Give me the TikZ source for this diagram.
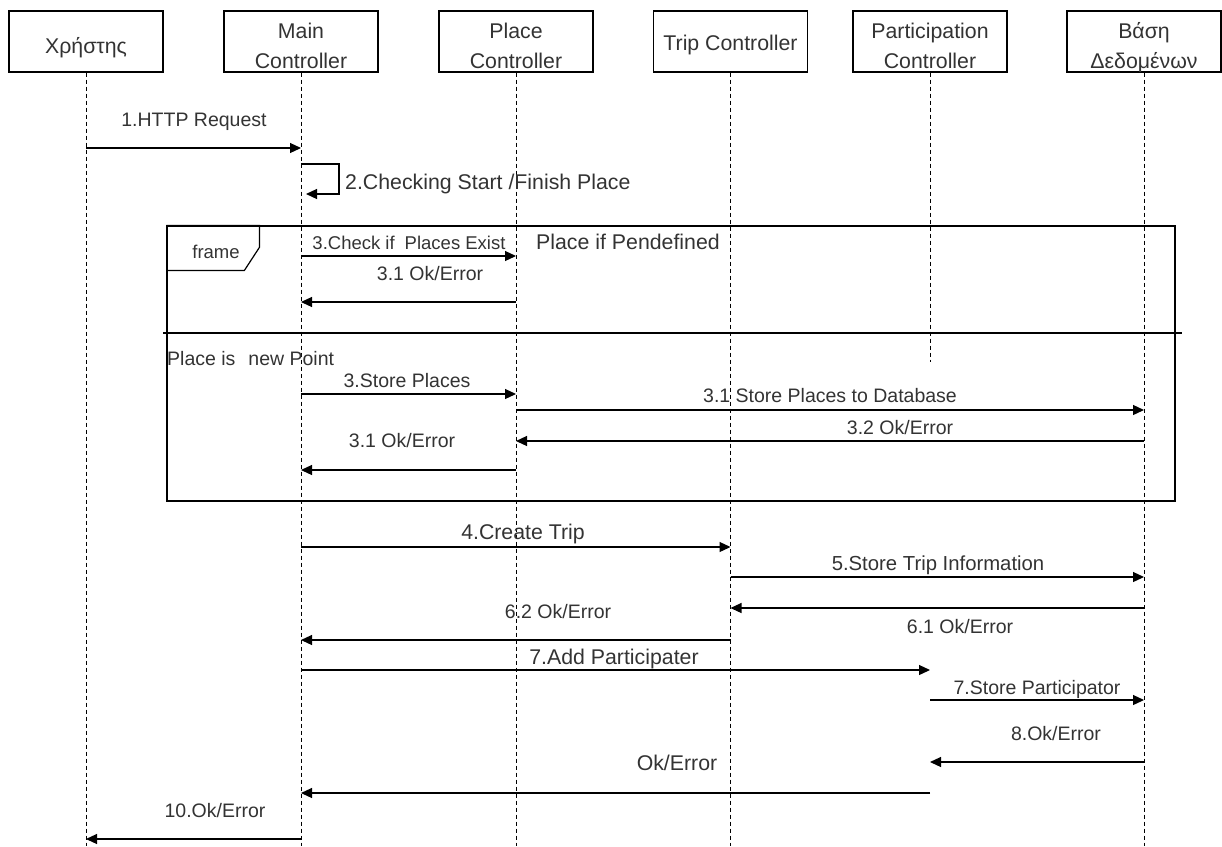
\documentclass[tikz,border=0pt]{standalone}
\usepackage{fontspec}
\setmainfont{Liberation Sans}
\usetikzlibrary{arrows.meta}
\begin{document}
\begin{tikzpicture}[x=1pt,y=-1pt,
  hdr/.style={draw, line width=1.2pt, minimum width=154pt, minimum height=61pt, inner sep=0pt},
  htxt/.style={anchor=base, inner sep=0pt, font=\fontsize{21.3}{25}\selectfont, text=black!80},
  life/.style={line width=1pt, dash pattern=on 4pt off 3pt},
  msg/.style={line width=1.2pt, -{Triangle[length=11pt,width=10pt]}},
  lbl/.style={inner sep=0pt, font=\fontsize{19.5}{23}\selectfont, text=black!80, text height=14pt, text depth=0pt},
  slbl/.style={lbl, font=\fontsize{18.5}{22}\selectfont},
  blbl/.style={lbl, font=\fontsize{21.3}{25}\selectfont},
  fr/.style={line width=1.2pt}]
\useasboundingbox (0,0) rectangle (1222,846);

% participants
\node[hdr] (u)   at (86,41.5)   {};
\node[hdr] (mc)  at (301,41.5)  {};
\node[hdr] (pc)  at (516,41.5)  {};
\node[hdr] (tc)  at (730.5,41.5){};
\node[hdr] (prc) at (930,41.5)  {};
\node[hdr] (db)  at (1144,41.5) {};
\node[htxt] (u1)   at (86,53)    {Χρήστης};
\node[htxt] (mc1)  at (301,38)   {Main};
\node[htxt] (mc2)  at (301,68)   {Controller};
\node[htxt] (pc1)  at (516,38)   {Place};
\node[htxt] (pc2)  at (516,68)   {Controller};
\node[htxt] (tc1)  at (730.5,50) {Trip Controller};
\node[htxt] (prc1) at (930,38)   {Participation};
\node[htxt] (prc2) at (930,68)   {Controller};
\node[htxt] (db1)  at (1144,38)  {Βάση};
\node[htxt] (db2)  at (1144,68)  {Δεδομένων};

% lifelines
\draw[life] (u.south)   -- (u.south |- 0,846);
\draw[life] (mc.south)  -- (mc.south |- 0,846);
\draw[life] (pc.south)  -- (pc.south |- 0,846);
\draw[life] (tc.south)  -- (tc.south |- 0,846);
\draw[life] (prc.south) -- (prc.south |- 0,362);
\draw[life] (db.south)  -- (db.south |- 0,846);

% combined fragment
\node[draw, fr, minimum width=1008pt, minimum height=275pt, inner sep=0pt] (frm) at (671,363.5) {};
\draw[fr] (frm.north west) -- ++(93,0) -- ++(0,22) -- ++(-15,23) -- ++(-78,0);
\node[slbl] (frmt) at (216,251) {frame};
\coordinate (dl) at (163,333);
\coordinate (dr) at (1182,333);
\draw[line width=1.2pt] (dl) -- (dr);
\node[blbl, anchor=west] (g1) at (536,242) {Place if Pendefined};
\node[lbl, anchor=west] (g2) at (167,358) {Place is\hspace{13pt}new Point};

% messages
\draw[msg] (u |- 0,148) -- (mc |- 0,148);
\node[lbl] (m1) at (194,119) {1.HTTP Request};

\draw[msg, shorten >=5pt] (mc |- 0,164) -- ++(38,0) -- ++(0,30) -- (mc |- 0,194);
\node[blbl, anchor=west] (m2) at (345,182) {2.Checking Start /Finish Place};

\draw[msg] (mc |- 0,256) -- (pc |- 0,256);
\node[slbl] (m3) at (409,242) {3.Check if\hspace{10pt}Places Exist};
\draw[msg] (pc |- 0,302) -- (mc |- 0,302);
\node[lbl] (m31) at (430,273) {3.1 Ok/Error};

\draw[msg] (mc |- 0,394) -- (pc |- 0,394);
\node[lbl] (m3s) at (407,380) {3.Store Places};
\draw[msg] (pc |- 0,410) -- (db |- 0,410);
\node[lbl] (m31s) at (830,395) {3.1 Store Places to Database};
\draw[msg] (db |- 0,441) -- (pc |- 0,441);
\node[lbl] (m32) at (900,427) {3.2 Ok/Error};
\draw[msg] (pc |- 0,470) -- (mc |- 0,470);
\node[lbl] (m31b) at (402,440) {3.1 Ok/Error};

\draw[msg] (mc |- 0,547) -- (tc |- 0,547);
\node[blbl] (m4) at (523,532) {4.Create Trip};
\draw[msg] (tc |- 0,577) -- (db |- 0,577);
\node[lbl, font=\fontsize{20.3}{24}\selectfont] (m5) at (938,563) {5.Store Trip Information};
\draw[msg] (db |- 0,608) -- (tc |- 0,608);
\node[lbl] (m61) at (960,626) {6.1 Ok/Error};
\draw[msg] (tc |- 0,640) -- (mc |- 0,640);
\node[lbl] (m62) at (558,611) {6.2 Ok/Error};

\draw[msg] (mc |- 0,670) -- (prc |- 0,670);
\node[blbl] (m7) at (614,657) {7.Add Participater};
\draw[msg] (prc |- 0,700) -- (db |- 0,700);
\node[lbl] (m7s) at (1037,687) {7.Store Participator};
\draw[msg] (db |- 0,762) -- (prc |- 0,762);
\node[lbl] (m8) at (1056,733) {8.Ok/Error};
\draw[msg] (prc |- 0,793) -- (mc |- 0,793);
\node[blbl] (m9) at (677,763) {Ok/Error};
\draw[msg] (mc |- 0,839) -- (u |- 0,839);
\node[lbl] (m10) at (215,810) {10.Ok/Error};
\end{tikzpicture}
\end{document}
